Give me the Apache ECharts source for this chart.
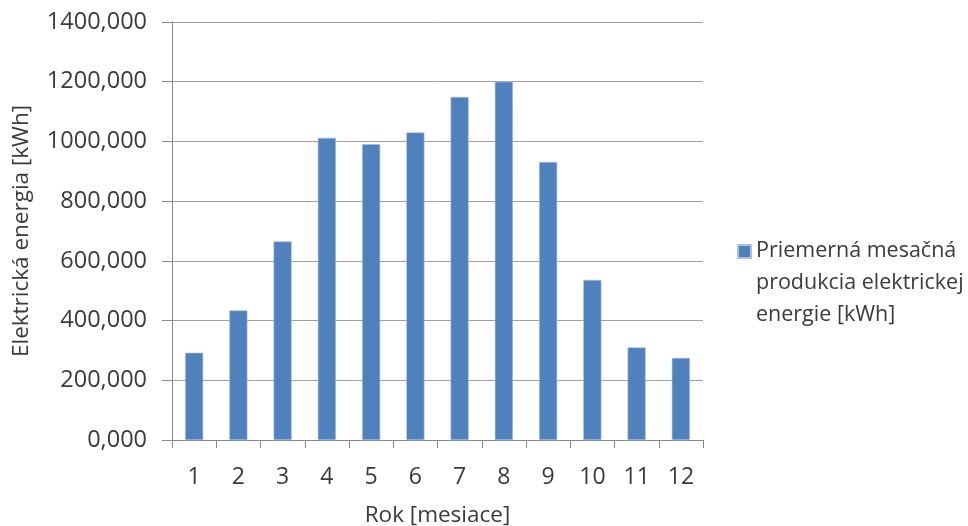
<!DOCTYPE html>
<html>
<head>
<meta charset="utf-8">
<script src="https://cdn.jsdelivr.net/npm/echarts@6/dist/echarts.min.js"></script>
<style>html,body{margin:0;padding:0;background:#fff;}#c{width:968px;height:526px;}</style>
</head>
<body>
<div id="c"></div>
<script>
var categories = ['1','2','3','4','5','6','7','8','9','10','11','12'];
var values = [292, 434, 665, 1012, 991, 1030, 1149, 1200, 931, 536, 310, 275];
var seriesName = 'Priemerná mesačná\nprodukcia elektrickej\nenergie [kWh]';
var xName = 'Rok [mesiace]';
var yName = 'Elektrická energia [kWh]';

var font = '"Open Sans", "Noto Sans", sans-serif';
var txt = '#3a3a3a';
var chart = echarts.init(document.getElementById('c'));
chart.setOption({
  animation: false,
  grid: {left: 172, right: 265, top: 22, bottom: 86, containLabel: false, outerBoundsMode: 'none'},
  legend: {
    data: [seriesName],
    left: 732, top: 230,
    orient: 'vertical',
    itemWidth: 13, itemHeight: 76,
    itemGap: 8,
    icon: 'path://M0 0H10V10H0Z M0 58.46L0.01 58.46',
    textStyle: {fontFamily: font, fontSize: 21.5, color: txt, lineHeight: 32}
  },
  xAxis: {
    type: 'category',
    data: categories,
    name: xName,
    nameLocation: 'middle',
    nameGap: 64,
    nameTextStyle: {fontFamily: font, fontSize: 22.5, color: txt},
    axisLine: {lineStyle: {color: '#888', width: 1}},
    axisTick: {show: true, length: 8, lineStyle: {color: '#888'}},
    axisLabel: {fontFamily: font, fontSize: 23, color: txt, margin: 26}
  },
  yAxis: {
    type: 'value',
    min: 0, max: 1400, interval: 200,
    name: yName,
    nameLocation: 'middle',
    nameGap: 139,
    nameTextStyle: {fontFamily: font, fontSize: 22.5, color: txt},
    axisLine: {show: true, lineStyle: {color: '#888', width: 1}},
    axisTick: {show: true, length: 10, lineStyle: {color: '#888'}},
    axisLabel: {fontFamily: font, fontSize: 23.5, color: txt, margin: 25,
      formatter: function(v){ return v.toFixed(3).replace('.', ','); }},
    splitLine: {lineStyle: {color: '#a0a0a0', width: 1}}
  },
  series: [{
    name: seriesName,
    type: 'bar',
    data: values,
    barCategoryGap: '59%',
    itemStyle: {color: '#4F81BD', borderColor: '#a9c1e0', borderWidth: 0.6}
  }]
});
</script>
</body>
</html>
